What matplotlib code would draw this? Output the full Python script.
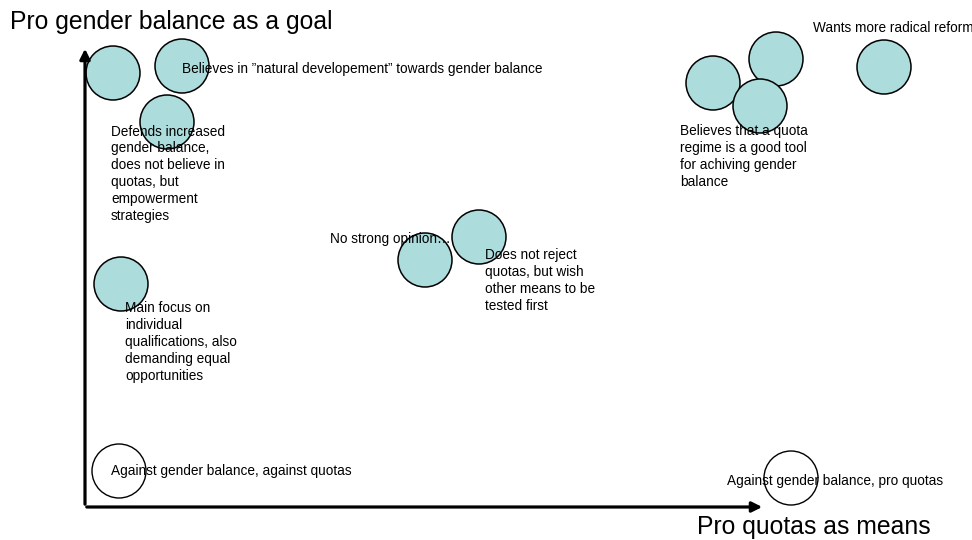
import matplotlib.pyplot as plt
from matplotlib.patches import Circle

plt.rcParams['font.family'] = ['Liberation Sans', 'DejaVu Sans']

# circle centres (pixel-like coordinates of the sketch, y grows downward)
filled_x = [113, 182, 167, 121, 425, 479, 713, 776, 760, 884]
filled_y = [73, 66, 122, 284, 260, 237, 83, 59, 106, 67]
open_x = [119, 791]
open_y = [471, 478]
radius = 27

# labels: (text, left x, centre y of the first line)
labels = [
    ("Believes in \u201dnatural developement\u201d towards gender balance", 182, 70),
    ("Defends increased\ngender balance,\ndoes not believe in\nquotas, but\nempowerment\nstrategies", 111, 132),
    ("Wants more radical reform", 813, 28),
    ("Believes that a quota\nregime is a good tool\nfor achiving gender\nbalance", 680, 132),
    ("No strong opinion\u2026", 330, 239),
    ("Does not reject\nquotas, but wish\nother means to be\ntested first", 485, 256),
    ("Main focus on\nindividual\nqualifications, also\ndemanding equal\nopportunities", 125, 309),
    ("Against gender balance, against quotas", 111, 472),
    ("Against gender balance, pro quotas", 727, 481),
]

fig = plt.figure(figsize=(9.72, 5.4), dpi=100)
ax = fig.add_axes([0, 0, 1, 1])
ax.set_xlim(0, 972)
ax.set_ylim(540, 0)
ax.axis('off')

# axes arrows
ax.annotate('', xy=(85, 46), xytext=(85, 507),
            arrowprops=dict(arrowstyle='-|>', lw=2.3, color='black', mutation_scale=15))
ax.annotate('', xy=(765, 507), xytext=(84, 507),
            arrowprops=dict(arrowstyle='-|>', lw=2.3, color='black', mutation_scale=15))

for x, y in zip(filled_x, filled_y):
    ax.add_patch(Circle((x, y), radius, facecolor='#acdcdc', edgecolor='black', lw=1.1, zorder=2))
for x, y in zip(open_x, open_y):
    ax.add_patch(Circle((x, y), radius, facecolor='none', edgecolor='black', lw=1.0, zorder=2))

for text, x, y in labels:
    ax.text(x, y - 7.5, text, fontsize=9.8, ha='left', va='top', linespacing=1.26, zorder=3)

ax.text(10, 22, "Pro gender balance as a goal", fontsize=17.8, ha='left', va='center')
ax.text(697, 527, "Pro quotas as means", fontsize=17.8, ha='left', va='center')

fig.savefig('out.png', dpi=100)
